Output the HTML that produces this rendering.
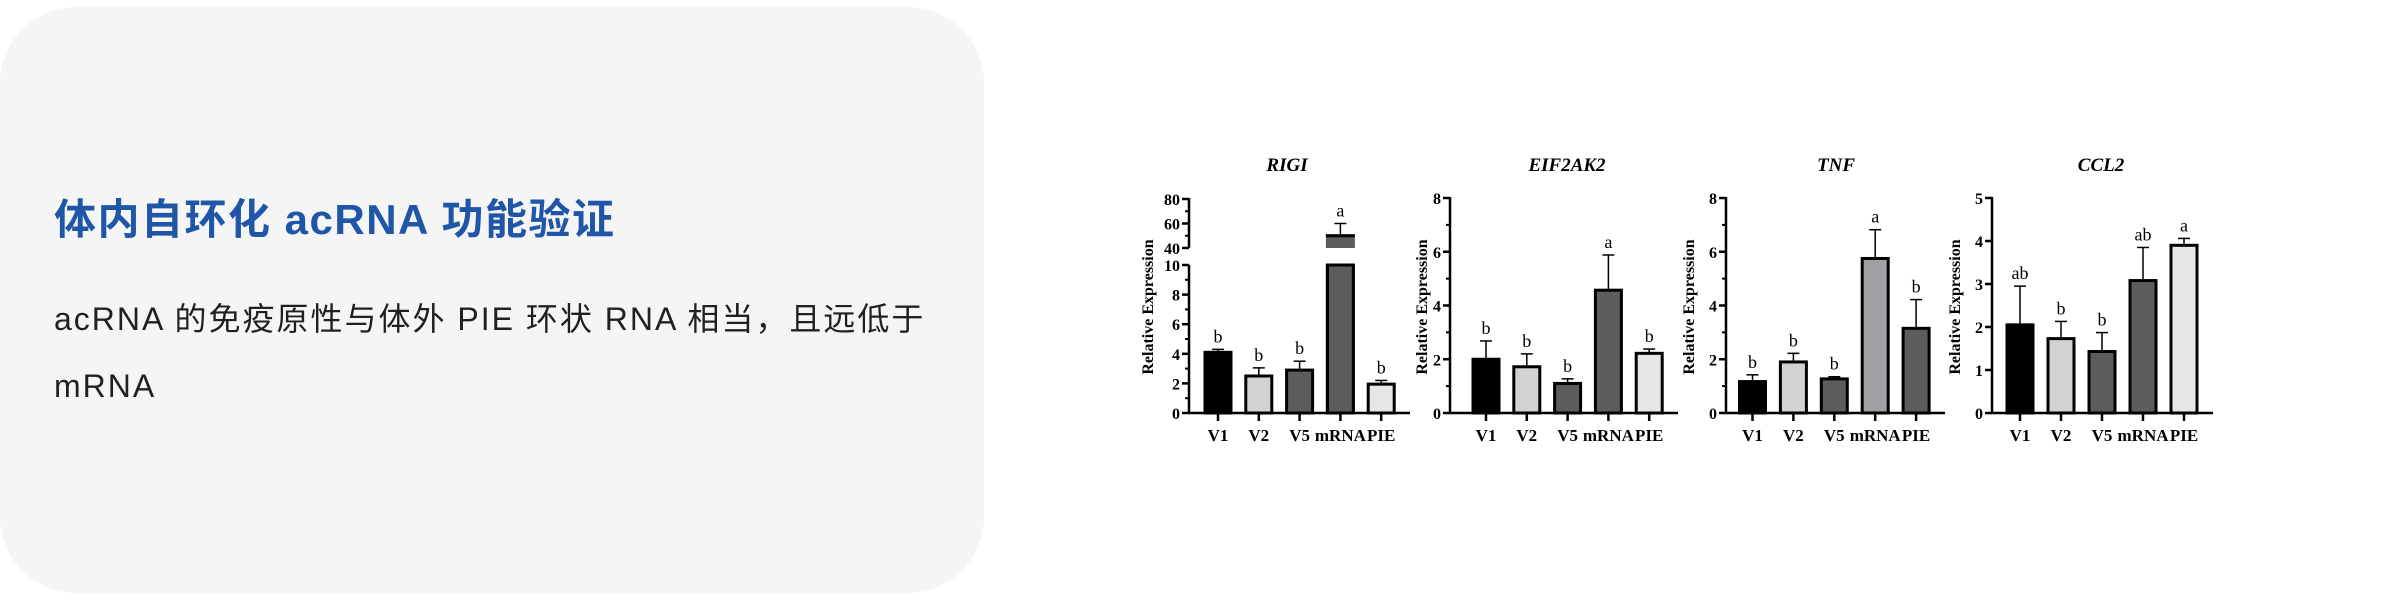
<!DOCTYPE html>
<html><head><meta charset="utf-8">
<style>
html,body{margin:0;padding:0;background:#fff;width:2400px;height:600px;overflow:hidden}
#card{position:absolute;left:0;top:7px;width:984px;height:586px;background:#f5f5f5;border-radius:76px}
#title{position:absolute;left:54px;top:186px;font:bold 42px "Liberation Sans","Noto Sans CJK SC",sans-serif;color:#1f56a8;white-space:nowrap;letter-spacing:1.5px}
.body{position:absolute;left:54px;font:32px "Liberation Sans","Noto Sans CJK SC",sans-serif;color:#231f20;white-space:nowrap;letter-spacing:2px}
svg{position:absolute;left:0;top:0}
</style></head><body>
<div id="card"></div>
<div id="title">体内自环化 acRNA 功能验证</div>
<div class="body" style="top:294px">acRNA 的免疫原性与体外 PIE 环状 RNA 相当，且远低于</div>
<div class="body" style="top:368px">mRNA</div>
<svg id="chart" width="2400" height="600"></svg>
<script>
const categories=["V1","V2","V5","mRNA","PIE"];
const rigiValues=[4.1,2.5,2.9,50,1.95];
const rigiErrors=[4.3,3.05,3.5,60,2.2];
const rigiLetters=["b","b","b","a","b"];
const eifValues=[2.0,1.72,1.1,4.57,2.22];
const eifErrors=[2.68,2.2,1.27,5.88,2.38];
const eifLetters=["b","b","b","a","b"];
const tnfValues=[1.17,1.9,1.27,5.75,3.15];
const tnfErrors=[1.42,2.22,1.35,6.82,4.22];
const tnfLetters=["b","b","b","a","b"];
const ccl2Values=[2.05,1.73,1.43,3.08,3.9];
const ccl2Errors=[2.95,2.13,1.87,3.85,4.06];
const ccl2Letters=["ab","b","b","ab","a"];
const rigiTicksLow=[0,2,4,6,8,10];
const rigiTicksHigh=[40,60,80];
const ticks8=[0,2,4,6,8];
const ticks5=[0,1,2,3,4,5];

const svg=document.getElementById('chart');
const NS="http://www.w3.org/2000/svg";
function mk(tag,attrs,parent){const e=document.createElementNS(NS,tag);for(const k in attrs)e.setAttribute(k,attrs[k]);(parent||svg).appendChild(e);return e;}
function txt(s,attrs,parent){const e=mk('text',attrs,parent);e.textContent=s;return e;}
const serif='"Liberation Serif",serif';
const Y0=413;

function panel(o){
  const g=mk('g',{});
  
  
  const t=txt(o.title,{x:o.titleX,y:171,'text-anchor':'middle','font-family':serif,'font-size':19,'font-weight':'bold','font-style':'italic'},g);
  
  
  const yl=txt('Relative Expression',{x:0,y:0,transform:`translate(${o.ylabX},307) rotate(-90)`,'text-anchor':'middle','font-family':serif,'font-size':16,'font-weight':'bold'},g);
  
  
  const y=o.scale;
  o.axisSegments.forEach(s=>{mk('line',{x1:o.ax,x2:o.ax,y1:s[0],y2:s[1],stroke:'#000','stroke-width':2.5},g);});
  o.ticks.forEach(v=>{
    const yy=y(v);
    mk('line',{x1:o.ax-7,x2:o.ax,y1:yy,y2:yy,stroke:'#000','stroke-width':2.5},g);
    const tl=txt(String(v),{x:o.ax-9,y:yy+6,'text-anchor':'end','font-family':serif,'font-size':16,'font-weight':'bold'},g);
    
    
  });
  (o.minor||[]).forEach(v=>{const yy=y(v);mk('line',{x1:o.ax-4,x2:o.ax,y1:yy,y2:yy,stroke:'#000','stroke-width':2},g);});
  mk('line',{x1:o.ax-1,x2:o.axEnd,y1:Y0,y2:Y0,stroke:'#000','stroke-width':2.5},g);
  categories.forEach((c,i)=>{
    const x=o.firstX+o.spacing*i;
    const v=o.values[i],e=o.errors[i];
    mk('line',{x1:x,x2:x,y1:y(e),y2:y(v),stroke:'#000','stroke-width':1.5},g);
    mk('line',{x1:x-6,x2:x+6,y1:y(e),y2:y(e),stroke:'#000','stroke-width':1.5},g);
    const col=o.colors[i];
    if(o.breakAt && v>o.breakAt.low){
      const b1=mk('rect',{x:x-13,y:y(o.breakAt.low),width:26,height:Y0-y(o.breakAt.low),fill:col,stroke:'#000','stroke-width':3},g);
      
      
      mk('rect',{x:x-14.5,y:y(v)-1.5,width:29,height:y(o.breakAt.high)-y(v)+1.5,fill:col,stroke:'none'},g);
      mk('line',{x1:x-14.5,x2:x+14.5,y1:y(v),y2:y(v),stroke:'#000','stroke-width':3},g);
      mk('rect',{x:x-16,y:y(o.breakAt.low)-1.5,width:32,height:y(o.breakAt.high)-y(o.breakAt.low)+3,fill:'#fff'},g);
      mk('line',{x1:x-13,x2:x-13,y1:y(o.breakAt.low),y2:Y0,stroke:'#000','stroke-width':3},g);
      mk('line',{x1:x+13,x2:x+13,y1:y(o.breakAt.low),y2:Y0,stroke:'#000','stroke-width':3},g);
    } else {
      const b=mk('rect',{x:x-13,y:y(v),width:26,height:Y0-y(v),fill:col,stroke:'#000','stroke-width':3},g);
      
      
    }
    const lt=txt(o.letters[i],{x:x,y:y(e)-7,'text-anchor':'middle','font-family':serif,'font-size':18},g);
    
    
    mk('line',{x1:x,x2:x,y1:Y0,y2:Y0+8,stroke:'#000','stroke-width':2.5},g);
    const cl=txt(c,{x:x,y:441,'text-anchor':'middle','font-family':serif,'font-size':17,'font-weight':'bold'},g);
    
    
  });
}
const lin=(max,top)=>v=>Y0-(v/max)*(Y0-top);
const rigiScale=v=> v<=10 ? Y0-v/10*(Y0-265) : 248-(v-40)/40*(248-199);
panel({name:'rigi',title:'RIGI',titleX:1287,ylabX:1153,ax:1189,axEnd:1410,firstX:1218,spacing:40.8,
  values:rigiValues,errors:rigiErrors,letters:rigiLetters,scale:rigiScale,
  ticks:rigiTicksLow.concat(rigiTicksHigh),minor:[1,3,5,7,9,50,70],
  axisSegments:[[Y0+1,265],[248,198]],breakAt:{low:10,high:40},
  colors:['#000','#d2d2d2','#5c5c5c','#5c5c5c','#e6e6e6']});
panel({name:'eif2ak2',title:'EIF2AK2',titleX:1567,ylabX:1427,ax:1450,axEnd:1678,firstX:1486,spacing:40.8,
  values:eifValues,errors:eifErrors,letters:eifLetters,scale:lin(8,198),
  ticks:ticks8,minor:[1,3,5,7],axisSegments:[[Y0+1,197]],
  colors:['#000','#d2d2d2','#5c5c5c','#5c5c5c','#e6e6e6']});
panel({name:'tnf',title:'TNF',titleX:1836,ylabX:1694,ax:1726,axEnd:1945,firstX:1752.5,spacing:40.9,
  values:tnfValues,errors:tnfErrors,letters:tnfLetters,scale:lin(8,198),
  ticks:ticks8,minor:[1,3,5,7],axisSegments:[[Y0+1,197]],
  colors:['#000','#d2d2d2','#5c5c5c','#a0a0a4','#5c5c5c']});
panel({name:'ccl2',title:'CCL2',titleX:2101,ylabX:1960,ax:1992,axEnd:2213,firstX:2020,spacing:41,
  values:ccl2Values,errors:ccl2Errors,letters:ccl2Letters,scale:lin(5,198),
  ticks:ticks5,minor:[],axisSegments:[[Y0+1,197]],
  colors:['#000','#d2d2d2','#5c5c5c','#5c5c5c','#e6e6e6']});
</script>
</body></html>
